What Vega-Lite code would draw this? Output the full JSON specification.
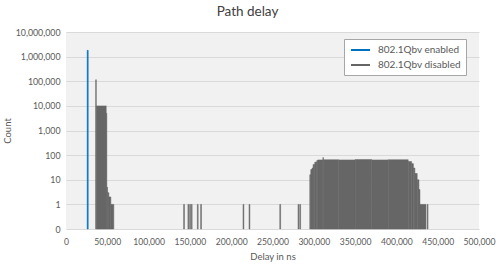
{
  "$schema": "https://vega.github.io/schema/vega-lite/v6.json",
  "autosize": "none",
  "padding": {"left": 66, "top": 32, "right": 21, "bottom": 36},
  "width": 413,
  "height": 197,
  "background": "white",
  "config": {
    "font": "Lato",
    "view": {"stroke": null, "fill": "#f1f1f1"}
  },
  "title": {"text": "Path delay", "fontSize": 13.5, "fontWeight": "normal", "color": "#404040", "dx": -25, "offset": 10},
  "data": {
    "values": [
      {"s": "802.1Qbv enabled", "x0": 25600, "x1": 26900, "n": 1800000},
      {"s": "802.1Qbv disabled", "x0": 35900, "x1": 36700, "n": 115000},
      {"s": "802.1Qbv disabled", "x0": 36700, "x1": 48700, "n": 10000},
      {"s": "802.1Qbv disabled", "x0": 48700, "x1": 49400, "n": 5000},
      {"s": "802.1Qbv disabled", "x0": 49400, "x1": 50300, "n": 5},
      {"s": "802.1Qbv disabled", "x0": 50300, "x1": 51900, "n": 3},
      {"s": "802.1Qbv disabled", "x0": 51900, "x1": 54300, "n": 2},
      {"s": "802.1Qbv disabled", "x0": 54300, "x1": 57900, "n": 1},
      {"s": "802.1Qbv disabled", "x0": 142400, "x1": 143400, "n": 1},
      {"s": "802.1Qbv disabled", "x0": 147600, "x1": 148600, "n": 1},
      {"s": "802.1Qbv disabled", "x0": 149700, "x1": 150700, "n": 1},
      {"s": "802.1Qbv disabled", "x0": 151700, "x1": 152700, "n": 1},
      {"s": "802.1Qbv disabled", "x0": 159000, "x1": 160000, "n": 1},
      {"s": "802.1Qbv disabled", "x0": 163000, "x1": 164000, "n": 1},
      {"s": "802.1Qbv disabled", "x0": 214300, "x1": 215300, "n": 1},
      {"s": "802.1Qbv disabled", "x0": 221600, "x1": 222600, "n": 1},
      {"s": "802.1Qbv disabled", "x0": 258800, "x1": 259800, "n": 1},
      {"s": "802.1Qbv disabled", "x0": 280900, "x1": 281900, "n": 1},
      {"s": "802.1Qbv disabled", "x0": 283000, "x1": 284000, "n": 1},
      {"s": "802.1Qbv disabled", "x0": 295100, "x1": 296300, "n": 16},
      {"s": "802.1Qbv disabled", "x0": 296300, "x1": 297900, "n": 26},
      {"s": "802.1Qbv disabled", "x0": 297900, "x1": 299100, "n": 30},
      {"s": "802.1Qbv disabled", "x0": 299100, "x1": 301200, "n": 42},
      {"s": "802.1Qbv disabled", "x0": 301200, "x1": 303600, "n": 52},
      {"s": "802.1Qbv disabled", "x0": 303600, "x1": 304800, "n": 60},
      {"s": "802.1Qbv disabled", "x0": 304800, "x1": 311000, "n": 64},
      {"s": "802.1Qbv disabled", "x0": 311000, "x1": 311600, "n": 80},
      {"s": "802.1Qbv disabled", "x0": 311600, "x1": 330000, "n": 65},
      {"s": "802.1Qbv disabled", "x0": 330000, "x1": 350000, "n": 64},
      {"s": "802.1Qbv disabled", "x0": 350000, "x1": 370000, "n": 66},
      {"s": "802.1Qbv disabled", "x0": 370000, "x1": 390000, "n": 64},
      {"s": "802.1Qbv disabled", "x0": 390000, "x1": 414300, "n": 65},
      {"s": "802.1Qbv disabled", "x0": 414300, "x1": 418400, "n": 55},
      {"s": "802.1Qbv disabled", "x0": 418400, "x1": 420600, "n": 45},
      {"s": "802.1Qbv disabled", "x0": 420600, "x1": 422400, "n": 30},
      {"s": "802.1Qbv disabled", "x0": 422400, "x1": 425200, "n": 18},
      {"s": "802.1Qbv disabled", "x0": 425200, "x1": 427300, "n": 10},
      {"s": "802.1Qbv disabled", "x0": 427300, "x1": 428500, "n": 4},
      {"s": "802.1Qbv disabled", "x0": 428500, "x1": 435800, "n": 1},
      {"s": "802.1Qbv disabled", "x0": 437300, "x1": 438300, "n": 1}
    ]
  },
  "mark": {"type": "rect", "strokeWidth": 0.5},
  "encoding": {
    "x": {
      "field": "x0", "type": "quantitative",
      "scale": {"domain": [0, 500000], "nice": false, "zero": false},
      "axis": {
        "title": "Delay in ns", "values": [0, 50000, 100000, 150000, 200000, 250000, 300000, 350000, 400000, 450000, 500000],
        "format": ",d", "grid": false, "domain": false, "ticks": false, "labelOverlap": false, "labelBound": false, "labelFlush": false,
        "labelPadding": 8, "labelFontSize": 8.6, "labelColor": "#595959",
        "titleFontSize": 9.5, "titleFontWeight": "normal", "titleColor": "#595959",
        "titleBaseline": "middle", "titleY": 27.5
      }
    },
    "x2": {"field": "x1"},
    "y": {
      "field": "n", "type": "quantitative",
      "scale": {"type": "log", "domain": [0.1, 10000000], "nice": false},
      "axis": {
        "title": "Count", "values": [0.1, 1, 10, 100, 1000, 10000, 100000, 1000000, 10000000],
        "labelExpr": "datum.value < 0.5 ? '0' : format(datum.value, ',d')",
        "grid": true, "gridColor": "#d9d9d9", "gridWidth": 1, "labelOverlap": false, "labelFlush": false,
        "domain": false, "ticks": false, "labelPadding": 6,
        "labelFontSize": 8.8, "labelColor": "#595959",
        "titleFontSize": 9.5, "titleFontWeight": "normal", "titleColor": "#595959",
        "titleX": -59, "titleY": 98.5, "titleBaseline": "middle"
      }
    },
    "y2": {"datum": 0.1},
    "stroke": {
      "field": "s", "type": "nominal",
      "scale": {"domain": ["802.1Qbv enabled", "802.1Qbv disabled"], "range": ["#0070c0", "#666666"]},
      "legend": null
    },
    "color": {
      "field": "s", "type": "nominal",
      "scale": {"domain": ["802.1Qbv enabled", "802.1Qbv disabled"], "range": ["#0070c0", "#666666"]},
      "legend": {
        "title": null, "orient": "none", "legendX": 278, "legendY": 7,
        "fillColor": "white", "strokeColor": "#a6a6a6", "padding": 5,
        "symbolType": "M-0.8,0H3", "symbolSize": 100, "symbolStrokeWidth": 2,
        "labelOffset": 17, "labelFontSize": 10, "labelColor": "#595959", "rowPadding": 4,
        "encode": {"symbols": {"update": {"stroke": {"scale": "color", "field": "value"}, "strokeWidth": {"value": 2}}}}
      }
    }
  }
}
